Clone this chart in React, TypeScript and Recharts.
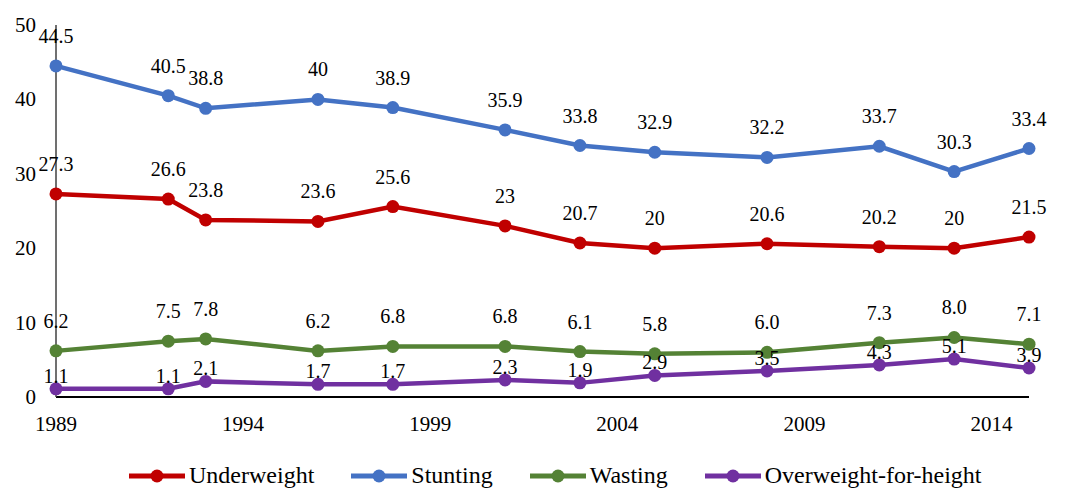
import { LineChart, Line, XAxis, YAxis, LabelList } from "recharts";

const years = [1989, 1992, 1993, 1996, 1998, 2001, 2003, 2005, 2008, 2011, 2013, 2015];
const underweight = [27.3, 26.6, 23.8, 23.6, 25.6, 23, 20.7, 20, 20.6, 20.2, 20, 21.5];
const stunting = [44.5, 40.5, 38.8, 40, 38.9, 35.9, 33.8, 32.9, 32.2, 33.7, 30.3, 33.4];
const wasting = [6.2, 7.5, 7.8, 6.2, 6.8, 6.8, 6.1, 5.8, 6.0, 7.3, 8.0, 7.1];
const overweight = [1.1, 1.1, 2.1, 1.7, 1.7, 2.3, 1.9, 2.9, 3.5, 4.3, 5.1, 3.9];

const xTicks = [1989, 1994, 1999, 2004, 2009, 2014];
const yTicks = [0, 10, 20, 30, 40, 50];

const FONT = "Liberation Serif";

const series = [
  { key: "underweight", name: "Underweight", color: "#C00000", lift: 23, fmt: (v: number) => String(v) },
  { key: "stunting", name: "Stunting", color: "#4472C4", lift: 23, fmt: (v: number) => String(v) },
  { key: "wasting", name: "Wasting", color: "#548235", lift: 23, fmt: (v: number) => v.toFixed(1) },
  { key: "overweight", name: "Overweight-for-height", color: "#7030A0", lift: 6, fmt: (v: number) => v.toFixed(1) },
];

const data = years.map((year, i) => ({
  year,
  underweight: underweight[i],
  stunting: stunting[i],
  wasting: wasting[i],
  overweight: overweight[i],
}));

const XTick = (props: any) => {
  const { x, y, payload } = props;
  return (
    <text x={x} y={y + 32} textAnchor="middle" fill="#000" style={{ fontFamily: FONT, fontSize: 21 }}>
      {payload.value}
    </text>
  );
};

const YTick = (props: any) => {
  const { y, payload } = props;
  return (
    <text x={36} y={y + 7} textAnchor="end" fill="#000" style={{ fontFamily: FONT, fontSize: 21 }}>
      {payload.value}
    </text>
  );
};

const makeLabel = (lift: number, fmt: (v: number) => string) => (props: any) => {
  const { x, y, value } = props;
  return (
    <text x={x} y={y - lift} textAnchor="middle" fill="#000" style={{ fontFamily: FONT, fontSize: 20 }}>
      {fmt(Number(value))}
    </text>
  );
};

export default function App() {
  return (
    <div style={{ position: "absolute", left: 0, top: 0, width: 1067, height: 489, background: "#fff", overflow: "hidden", fontFamily: FONT }}>
      <LineChart width={1067} height={489} data={data} margin={{ top: 25, right: 38, left: 0, bottom: 52 }}>
        <XAxis
          dataKey="year"
          type="number"
          domain={[1989, 2015]}
          ticks={xTicks}
          tickLine={false}
          tickSize={0}
          height={40}
          axisLine={{ stroke: "#000", strokeWidth: 2 }}
          tick={<XTick />}
        />
        <YAxis
          domain={[0, 50]}
          ticks={yTicks}
          width={56}
          tickLine={false}
          tickSize={0}
          axisLine={{ stroke: "#404040", strokeWidth: 1.5 }}
          tick={<YTick />}
        />
        {series.map((s) => (
          <Line
            key={s.key}
            dataKey={s.key}
            name={s.name}
            stroke={s.color}
            strokeWidth={4.5}
            dot={{ r: 6.5, fill: s.color, stroke: s.color, strokeWidth: 0 }}
            isAnimationActive={false}
          >
            <LabelList dataKey={s.key} content={makeLabel(s.lift, s.fmt)} />
          </Line>
        ))}
      </LineChart>
      <div style={{ position: "absolute", left: 129, top: 462, display: "flex", alignItems: "center", gap: 37, whiteSpace: "nowrap" }}>
        {series.map((s) => (
          <div key={s.key} style={{ display: "flex", alignItems: "center" }}>
            <svg width={56} height={16} style={{ marginRight: 4 }}>
              <line x1={0} y1={8} x2={56} y2={8} stroke={s.color} strokeWidth={5} />
              <circle cx={28} cy={8} r={6.5} fill={s.color} />
            </svg>
            <span style={{ fontFamily: FONT, fontSize: 24, color: "#000" }}>{s.name}</span>
          </div>
        ))}
      </div>
    </div>
  );
}
